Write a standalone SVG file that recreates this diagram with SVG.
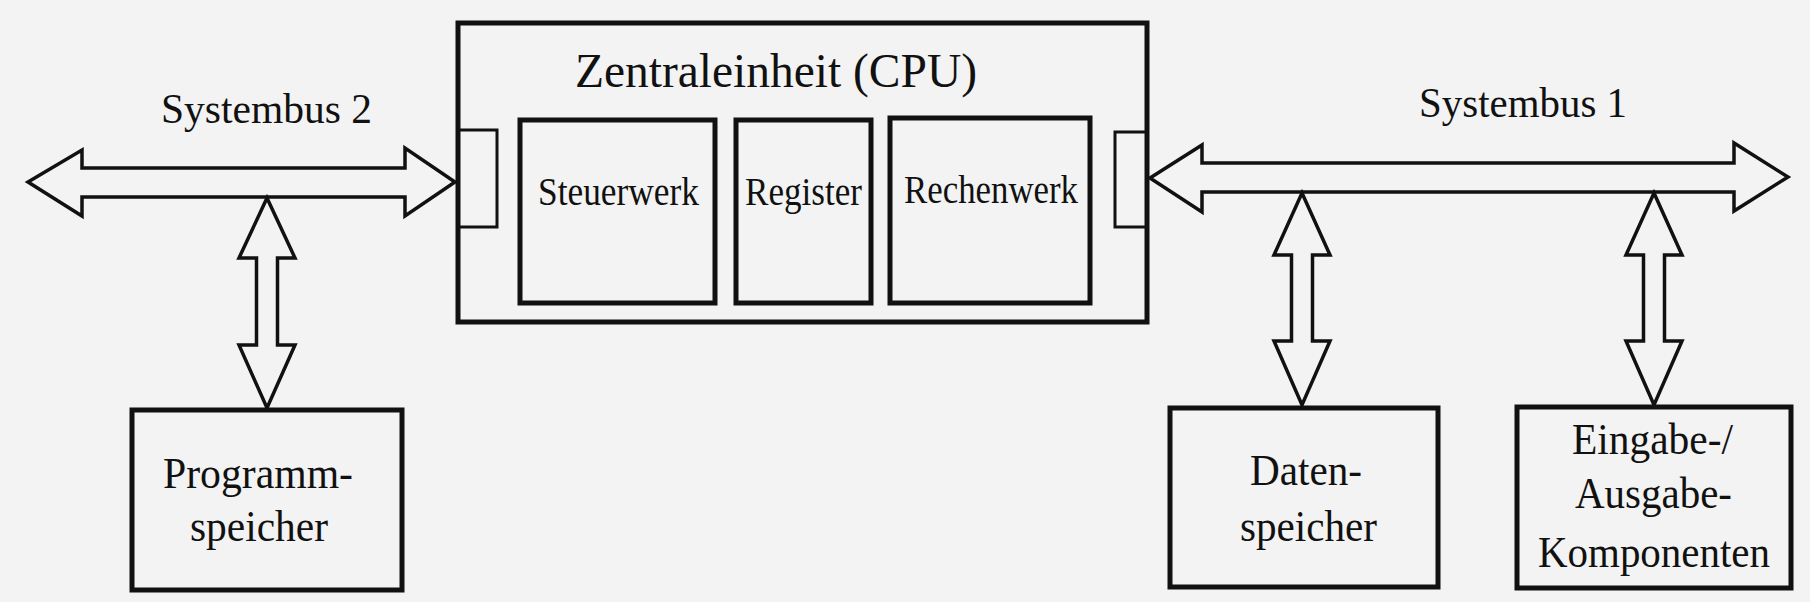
<svg xmlns="http://www.w3.org/2000/svg" width="1810" height="602" viewBox="0 0 1810 602">
<style>
.bg{fill:#f3f3f3}
.box{fill:none;stroke:#111;stroke-width:5}
.port{fill:none;stroke:#111;stroke-width:3}
.arr{fill:#f3f3f3;stroke:#111;stroke-width:3.5;stroke-linejoin:miter}
text{font-family:"Liberation Serif","Times New Roman",serif;fill:#111}
.lbl{font-size:44px}
.inner{font-size:39px}
.bus{font-size:42px}
.title{font-size:48px}
</style>
<rect class="bg" x="0" y="0" width="1810" height="602"/>
<g id="connectors">
<path class="arr" d="M28,182 L82,150 L82,168 L405,168 L405,148 L455,182 L405,216 L405,197 L82,197 L82,216 Z"/>
<path class="arr" d="M1150,178 L1202,145 L1202,163 L1734,163 L1734,143 L1788,177 L1734,211 L1734,192 L1202,192 L1202,212 Z"/>
<path class="arr" d="M267,198 L295,258 L277.5,258 L277.5,345 L295,345 L267,408 L239,345 L256.5,345 L256.5,258 L239,258 Z"/>
<path class="arr" d="M1302,193 L1330,255 L1312.5,255 L1312.5,341 L1330,341 L1302,405 L1274,341 L1291.5,341 L1291.5,255 L1274,255 Z"/>
<path class="arr" d="M1654,193 L1682,255 L1664.5,255 L1664.5,341 L1682,341 L1654,405 L1626,341 L1643.5,341 L1643.5,255 L1626,255 Z"/>
<text class="bus" x="161" y="123" textLength="211" lengthAdjust="spacingAndGlyphs">Systembus 2</text>
<text class="bus" x="1419" y="117" textLength="208" lengthAdjust="spacingAndGlyphs">Systembus 1</text>
</g>
<g id="cpu">
<rect class="box" x="458" y="23" width="689" height="299"/>
<text class="title" x="575" y="87" textLength="402" lengthAdjust="spacingAndGlyphs">Zentraleinheit (CPU)</text>
<rect class="port" x="458" y="130" width="39" height="97"/>
<rect class="port" x="1115" y="132" width="32" height="95"/>
</g>
<g id="steuerwerk">
<rect class="box" x="520" y="120" width="195" height="183"/>
<text class="inner" x="538" y="205" textLength="161" lengthAdjust="spacingAndGlyphs">Steuerwerk</text>
</g>
<g id="register">
<rect class="box" x="736" y="120" width="135" height="183"/>
<text class="inner" x="745" y="205" textLength="117" lengthAdjust="spacingAndGlyphs">Register</text>
</g>
<g id="rechenwerk">
<rect class="box" x="890" y="118" width="200" height="185"/>
<text class="inner" x="904" y="203" textLength="174" lengthAdjust="spacingAndGlyphs">Rechenwerk</text>
</g>
<g id="programmspeicher">
<rect class="box" x="132" y="410" width="270" height="180"/>
<text class="lbl" x="163" y="488" textLength="190" lengthAdjust="spacingAndGlyphs">Programm-</text>
<text class="lbl" x="190" y="541" textLength="138" lengthAdjust="spacingAndGlyphs">speicher</text>
</g>
<g id="datenspeicher">
<rect class="box" x="1170" y="408" width="268" height="179"/>
<text class="lbl" x="1250" y="485" textLength="112" lengthAdjust="spacingAndGlyphs">Daten-</text>
<text class="lbl" x="1240" y="541" textLength="137" lengthAdjust="spacingAndGlyphs">speicher</text>
</g>
<g id="ea-komponenten">
<rect class="box" x="1517" y="407" width="274" height="181"/>
<text class="lbl" x="1572" y="454" textLength="161" lengthAdjust="spacingAndGlyphs">Eingabe-/</text>
<text class="lbl" x="1575" y="508" textLength="157" lengthAdjust="spacingAndGlyphs">Ausgabe-</text>
<text class="lbl" x="1538" y="567" textLength="232" lengthAdjust="spacingAndGlyphs">Komponenten</text>
</g>
</svg>
